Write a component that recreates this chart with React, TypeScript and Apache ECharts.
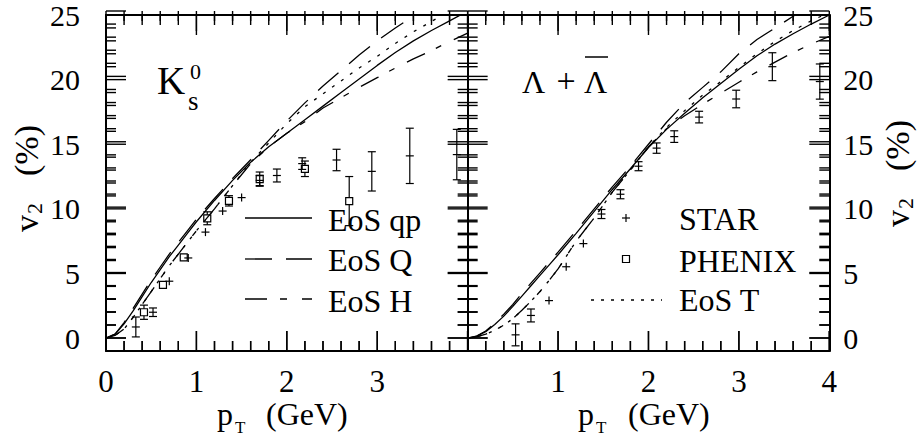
import React, { useEffect, useRef } from "react";
import * as echarts from "echarts";

// transverse momentum grid for the hydro curves (GeV)
const PT = [0, 0.1, 0.2, 0.3, 0.4, 0.5, 0.6, 0.7, 0.8, 0.9, 1.0, 1.2, 1.4, 1.6, 1.8, 2.0, 2.2, 2.4, 2.6, 2.8, 3.0, 3.2, 3.4, 3.6, 3.8, 4.0];

// K0s: v2 (%) for each equation of state
const K_EOS_QP = [0, 0.3, 1.1, 2.1, 3.2, 4.3, 5.3, 6.3, 7.2, 8.1, 9.0, 10.65, 12.2, 13.6, 14.8, 15.85, 16.9, 17.95, 19.0, 20.05, 21.1, 22.1, 23.0, 23.8, 24.55, 25.3];
const K_EOS_Q = [0, 0.3, 1.2, 2.3, 3.4, 4.5, 5.5, 6.5, 7.4, 8.3, 9.2, 10.8, 12.35, 13.8, 15.3, 16.8, 18.2, 19.5, 20.7, 21.9, 23.0, 24.0, 24.9, 25.7, 26.4, 27.0];
const K_EOS_H = [0, 0.2, 0.7, 1.6, 2.6, 3.6, 4.6, 5.6, 6.5, 7.4, 8.3, 10.0, 11.8, 13.5, 14.8, 15.85, 16.75, 17.8, 18.6, 19.4, 20.15, 20.9, 21.6, 22.25, 22.95, 23.6];
const K_EOS_T = [0, 0.2, 0.7, 1.6, 2.6, 3.6, 4.6, 5.6, 6.5, 7.4, 8.3, 10.0, 11.8, 13.6, 15.1, 16.6, 17.9, 18.9, 19.9, 20.9, 21.8, 22.8, 23.7, 24.5, 25.3, 26.0];

// Lambda + anti-Lambda: v2 (%) for each equation of state
const L_EOS_QP = [0, 0.15, 0.5, 1.05, 1.7, 2.45, 3.25, 4.05, 4.85, 5.65, 6.45, 8.1, 9.8, 11.5, 13.1, 14.75, 16.15, 17.4, 18.6, 19.7, 20.8, 21.85, 22.75, 23.55, 24.3, 25.0];
const L_EOS_Q = [0, 0.15, 0.55, 1.15, 1.85, 2.6, 3.45, 4.25, 5.05, 5.85, 6.65, 8.3, 10.0, 11.7, 13.3, 15.0, 16.7, 18.2, 19.4, 20.6, 22.0, 23.1, 24.0, 24.9, 25.7, 26.4];
const L_EOS_H = [0, 0.1, 0.3, 0.6, 1.0, 1.5, 2.15, 2.85, 3.6, 4.45, 5.35, 7.5, 9.3, 11.3, 13.0, 14.8, 16.2, 17.2, 18.1, 18.95, 19.8, 20.6, 21.35, 22.1, 22.75, 23.35];
const L_EOS_T = [0, 0.1, 0.3, 0.6, 1.0, 1.5, 2.15, 2.85, 3.6, 4.45, 5.35, 7.5, 9.3, 11.3, 13.0, 14.8, 16.3, 17.6, 18.8, 19.85, 20.95, 22.0, 22.95, 23.8, 24.55, 25.2];

// STAR K0s
const STAR_K_PT = [0.33, 0.52, 0.7, 0.91, 1.1, 1.29, 1.5, 1.7, 1.89, 2.17, 2.55, 2.94, 3.36, 3.88];
const STAR_K_V2 = [0.86, 2.0, 4.4, 6.2, 8.2, 9.83, 10.87, 12.2, 12.58, 13.5, 13.78, 12.9, 14.1, 14.2];
const STAR_K_ERR = [0.77, 0.33, 0, 0, 0, 0, 0.3, 0.4, 0.5, 0.45, 0.83, 1.52, 2.14, 1.95];

// PHENIX K0s
const PHENIX_K_PT = [0.42, 0.63, 0.86, 1.12, 1.36, 1.7, 2.2, 2.69];
const PHENIX_K_V2 = [2.0, 4.12, 6.24, 9.27, 10.62, 12.3, 13.1, 10.6];
const PHENIX_K_ERR = [0.55, 0, 0, 0.5, 0.4, 0.55, 0.6, 1.9];

// STAR Lambda + anti-Lambda
const STAR_L_PT = [0.53, 0.7, 0.9, 1.09, 1.28, 1.48, 1.69, 1.89, 2.09, 2.285, 2.56, 2.97, 3.37, 3.895];
const STAR_L_V2 = [0.25, 1.75, 2.9, 5.52, 7.31, 9.6, 11.13, 13.3, 14.7, 15.59, 17.1, 18.5, 21.0, 19.85];
const STAR_L_ERR = [0.85, 0.5, 0.3, 0.3, 0.3, 0.35, 0.35, 0.35, 0.4, 0.45, 0.45, 0.68, 1.08, 1.36];

// axis ranges and tick positions on the frame of each panel
const PT_MIN = 0;
const PT_MAX = 4;
const V2_MIN = -1;
const V2_MAX = 25;
const TICK_PT = [0, 0.2, 0.4, 0.6, 0.8, 1, 1.2, 1.4, 1.6, 1.8, 2, 2.2, 2.4, 2.6, 2.8, 3, 3.2, 3.4, 3.6, 3.8, 4];
const TICK_V2 = [0, 1, 2, 3, 4, 5, 6, 7, 8, 9, 10, 11, 12, 13, 14, 15, 16, 17, 18, 19, 20, 21, 22, 23, 24, 25];

// panel geometry in pixels
const PANEL_LEFT = [106, 106 + 361.65];
const PANEL_TOP = 11;
const PANEL_W = 361.65;
const PANEL_H = 340;
const MAJOR_LEN = 20;
const MINOR_LEN = 10;
const TICK_W = 1.4;

const FONT = "'Liberation Serif', 'Times New Roman', serif";
const INK = "#000";

const DASH_Q = [27, 14];
const DASH_H = [20, 12, 6, 14];
const DASH_T = [3, 8];

const pairs = (xs: number[], ys: number[]) => xs.map((x, i) => [x, ys[i]]);
const triples = (xs: number[], ys: number[], es: number[]) => xs.map((x, i) => [x, ys[i], es[i]]);
const isMajorPt = (v: number) => Math.abs(v - Math.round(v)) < 1e-6;
const isMajorV2 = (v: number) => v % 5 === 0;

function seg(x1: number, y1: number, x2: number, y2: number, w = 1.2) {
  return { type: "line", shape: { x1, y1, x2, y2 }, style: { stroke: INK, lineWidth: w } };
}

// filled bar used for a frame tick
function bar(x: number, y: number, width: number, height: number) {
  return { type: "rect", z: 100, shape: { x, y, width, height }, style: { fill: INK } };
}

// STAR: cross marker with a capped vertical error bar
function renderStar(_p: any, api: any) {
  const x = api.value(0), y = api.value(1), e = api.value(2);
  const c = api.coord([x, y]);
  const hi = api.coord([x, y + e]);
  const lo = api.coord([x, y - e]);
  const arm = 4;
  const top = Math.min(hi[1], c[1] - arm);
  const bot = Math.max(lo[1], c[1] + arm);
  const children: any[] = [seg(c[0], top, c[0], bot), seg(c[0] - arm, c[1], c[0] + arm, c[1])];
  if (c[1] - hi[1] > arm) {
    children.push(seg(c[0] - arm, hi[1], c[0] + arm, hi[1]));
    children.push(seg(c[0] - arm, lo[1], c[0] + arm, lo[1]));
  }
  return { type: "group", children };
}

// PHENIX: open square with a capped vertical error bar
function renderPhenix(_p: any, api: any) {
  const x = api.value(0), y = api.value(1), e = api.value(2);
  const c = api.coord([x, y]);
  const hi = api.coord([x, y + e]);
  const lo = api.coord([x, y - e]);
  const h = 3.5;
  const children: any[] = [
    { type: "rect", shape: { x: c[0] - h, y: c[1] - h, width: 2 * h, height: 2 * h }, style: { stroke: INK, fill: "none", lineWidth: 1.2 } },
  ];
  if (c[1] - hi[1] > h) {
    children.push(seg(c[0], hi[1], c[0], c[1] - h));
    children.push(seg(c[0], c[1] + h, c[0], lo[1]));
    children.push(seg(c[0] - 4, hi[1], c[0] + 4, hi[1]));
    children.push(seg(c[0] - 4, lo[1], c[0] + 4, lo[1]));
  }
  return { type: "group", children };
}

// frame tick: one row per tick, [pT, v2, side] with side 0 on the pT axes and 1 on the v2 axes
function renderTick(_p: any, api: any) {
  const xv = api.value(0), yv = api.value(1), side = api.value(2);
  const h = TICK_W / 2;
  if (side === 0) {
    const b = api.coord([xv, V2_MIN]);
    const t = api.coord([xv, V2_MAX]);
    const len = isMajorPt(xv) ? MAJOR_LEN : MINOR_LEN;
    return { type: "group", children: [bar(b[0] - h, b[1] - len, TICK_W, len), bar(t[0] - h, t[1], TICK_W, len)] };
  }
  const l = api.coord([PT_MIN, yv]);
  const r = api.coord([PT_MAX, yv]);
  const len = isMajorV2(yv) ? MAJOR_LEN : MINOR_LEN;
  return { type: "group", children: [bar(l[0], l[1] - h, len, TICK_W), bar(r[0] - len, r[1] - h, len, TICK_W)] };
}

const tickRows = () => [...TICK_PT.map((v) => [v, 0, 0]), ...TICK_V2.map((v) => [PT_MIN, v, 1])];

function tickSeries(xAxisIndex: number, yAxisIndex: number) {
  return {
    name: "frame", type: "custom", xAxisIndex, yAxisIndex, renderItem: renderTick,
    data: tickRows(), encode: { x: 0, y: 1 }, silent: true, z: 20, clip: false,
  };
}

// the same frame ticks as plain graphic lines, laid out on the panel rectangles
function panelTicks(panel: number) {
  const left = PANEL_LEFT[panel];
  const right = left + PANEL_W;
  const top = PANEL_TOP;
  const bottom = PANEL_TOP + PANEL_H;
  const xPx = (v: number) => left + ((v - PT_MIN) / (PT_MAX - PT_MIN)) * PANEL_W;
  const yPx = (v: number) => top + ((V2_MAX - v) / (V2_MAX - V2_MIN)) * PANEL_H;
  const out: any[] = [];
  TICK_PT.forEach((v) => {
    const x = xPx(v);
    const len = isMajorPt(v) ? MAJOR_LEN : MINOR_LEN;
    out.push(seg(x, bottom, x, bottom - len, TICK_W), seg(x, top, x, top + len, TICK_W));
  });
  TICK_V2.forEach((v) => {
    const y = yPx(v);
    const len = isMajorV2(v) ? MAJOR_LEN : MINOR_LEN;
    out.push(seg(left, y, left + len, y, TICK_W), seg(right, y, right - len, y, TICK_W));
  });
  return out;
}

function xAxisDef(gridIndex: number, position: string, showLabel: boolean, showMin: boolean, showMax: boolean) {
  return {
    type: "value", gridIndex, position, min: PT_MIN, max: PT_MAX, interval: 1,
    axisLine: { show: true, onZero: false, lineStyle: { color: INK, width: 2 } },
    axisTick: { show: false },
    minorTick: { show: false },
    axisLabel: { show: showLabel, margin: 15, color: INK, fontFamily: FONT, fontSize: 31, showMinLabel: showMin, showMaxLabel: showMax },
    splitLine: { show: false }, minorSplitLine: { show: false },
  };
}

function yAxisDef(gridIndex: number, position: string, showLabel: boolean, margin: number) {
  return {
    type: "value", gridIndex, position, min: V2_MIN, max: V2_MAX, splitNumber: 5,
    axisLine: { show: true, onZero: false, lineStyle: { color: INK, width: 2 } },
    axisTick: { show: false },
    axisLabel: { show: showLabel, margin, color: INK, fontFamily: FONT, fontSize: 30, showMinLabel: false, showMaxLabel: true,
      formatter: (v: number) => (v < 0 ? "" : String(v)) },
    splitLine: { show: false },
  };
}

function curve(name: string, ys: number[], dash: any, xAxisIndex: number, yAxisIndex: number) {
  return {
    name, type: "line", xAxisIndex, yAxisIndex, data: pairs(PT, ys), symbol: "none", smooth: false,
    lineStyle: { color: INK, width: 1.3, type: dash }, clip: true, silent: true,
  };
}

function txt(text: string, x: number, y: number, size: number, align = "left", extra: any = {}) {
  return {
    type: "text", x, y, ...extra,
    style: { text, fill: INK, font: `${size}px ${FONT}`, textAlign: align, align, textVerticalAlign: "middle", verticalAlign: "middle" },
  };
}

function gline(x1: number, y1: number, x2: number, y2: number, dash: any = null, w = 1.3) {
  const style: any = { stroke: INK, lineWidth: w };
  if (dash) style.lineDash = dash;
  return { type: "line", shape: { x1, y1, x2, y2 }, style };
}

// rotated "v2 (%)" axis title
function vTitle(cx: number, cy: number) {
  return {
    type: "group", x: cx, y: cy, rotation: Math.PI / 2,
    children: [
      txt("v", -47, 0, 34),
      txt("2", -29, 8, 22),
      txt("(%)", 9, 0, 34),
    ],
  };
}

// "pT (GeV)" axis title
function pTitle(px: number, tx: number, gx: number) {
  return [txt("p", px, 414, 32), txt("T", tx, 427, 17), txt("(GeV)", gx, 414, 32)];
}

export default function App() {
  const ref = useRef<HTMLDivElement>(null);

  useEffect(() => {
    if (!ref.current) return;
    const chart = echarts.init(ref.current, undefined, { renderer: "svg" });

    const option: any = {
      animation: false,
      grid: [
        { left: PANEL_LEFT[0], top: PANEL_TOP, width: PANEL_W, height: PANEL_H },
        { left: PANEL_LEFT[1], top: PANEL_TOP, width: PANEL_W, height: PANEL_H },
      ],
      xAxis: [
        xAxisDef(0, "bottom", true, true, false),
        xAxisDef(0, "top", false, false, false),
        xAxisDef(1, "bottom", true, false, true),
        xAxisDef(1, "top", false, false, false),
      ],
      yAxis: [
        yAxisDef(0, "left", true, 26),
        yAxisDef(0, "right", false, 10),
        yAxisDef(1, "left", false, 10),
        yAxisDef(1, "right", true, 14),
      ],
      series: [
        tickSeries(0, 0),
        tickSeries(2, 2),
        curve("EoS qp", K_EOS_QP, "solid", 0, 0),
        curve("EoS Q", K_EOS_Q, DASH_Q, 0, 0),
        curve("EoS H", K_EOS_H, DASH_H, 0, 0),
        curve("EoS T", K_EOS_T, DASH_T, 0, 0),
        curve("EoS qp", L_EOS_QP, "solid", 2, 2),
        curve("EoS Q", L_EOS_Q, DASH_Q, 2, 2),
        curve("EoS H", L_EOS_H, DASH_H, 2, 2),
        curve("EoS T", L_EOS_T, DASH_T, 2, 2),
        {
          name: "PHENIX", type: "custom", xAxisIndex: 0, yAxisIndex: 0, renderItem: renderPhenix,
          data: triples(PHENIX_K_PT, PHENIX_K_V2, PHENIX_K_ERR), encode: { x: 0, y: 1 }, silent: true,
        },
        {
          name: "STAR", type: "custom", xAxisIndex: 0, yAxisIndex: 0, renderItem: renderStar,
          data: triples(STAR_K_PT, STAR_K_V2, STAR_K_ERR), encode: { x: 0, y: 1 }, silent: true,
        },
        {
          name: "STAR", type: "custom", xAxisIndex: 2, yAxisIndex: 2, renderItem: renderStar,
          data: triples(STAR_L_PT, STAR_L_V2, STAR_L_ERR), encode: { x: 0, y: 1 }, silent: true,
        },
      ],
      graphic: {
        elements: [
          // inward frame ticks of both panels
          ...panelTicks(0),
          ...panelTicks(1),
          // left legend: model curves
          gline(245, 218, 312, 218),
          gline(245, 259, 312, 259, DASH_Q),
          gline(245, 299, 312, 299, [22, 13, 7, 15]),
          txt("EoS qp", 328, 220, 32),
          txt("EoS Q", 328, 260, 32),
          txt("EoS H", 328, 301, 32),
          // right legend: data sets and EoS T
          gline(622, 218, 630, 218, null, 1.2),
          gline(626, 214, 626, 222, null, 1.2),
          { type: "rect", shape: { x: 622.5, y: 255.5, width: 7, height: 7 }, style: { stroke: INK, fill: "none", lineWidth: 1.2 } },
          gline(591, 300, 662, 300, [3, 7]),
          txt("STAR", 679, 219, 32),
          txt("PHENIX", 679, 261, 32),
          txt("EoS T", 679, 300, 32),
          // particle labels
          txt("K", 157, 80, 39),
          txt("s", 188, 101, 27),
          txt("0", 190, 71, 22),
          txt("\u039B", 522, 82, 32),
          txt("+", 566, 80, 34, "center"),
          txt("\u039B", 584, 82, 32),
          gline(585, 57, 608, 57, null, 1.5),
          // axis titles
          vTitle(26, 185),
          vTitle(897, 180),
          ...pTitle(217, 235, 266),
          ...pTitle(578, 596, 628),
        ],
      },
    };

    chart.setOption(option);
    return () => chart.dispose();
  }, []);

  return <div ref={ref} style={{ width: 921, height: 437, position: "absolute", left: 0, top: 0 }} />;
}
